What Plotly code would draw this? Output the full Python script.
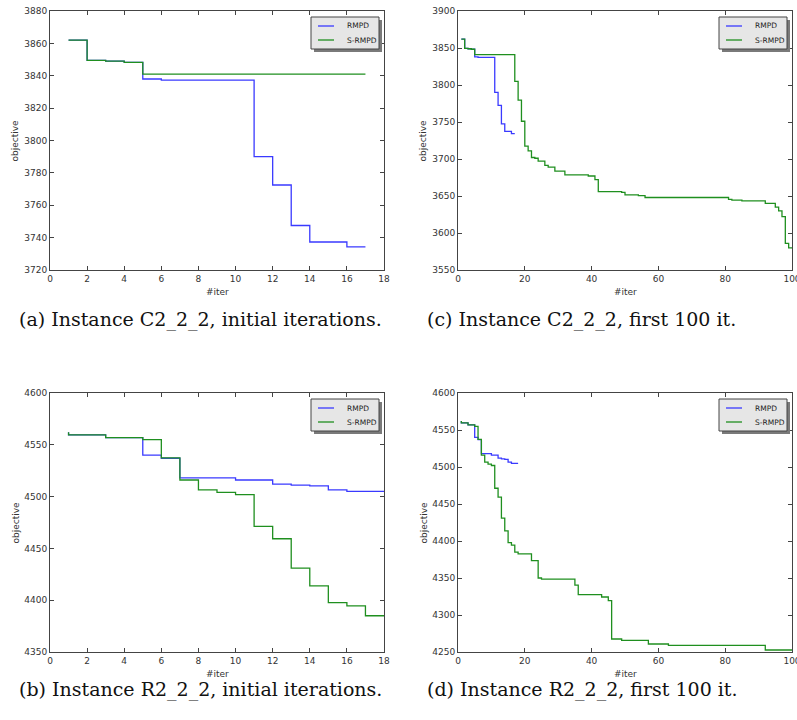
import plotly.graph_objects as go

# ---- data: (a) C2_2_2 initial iterations ----
a_rmpd_x = [1, 2, 3, 4, 5, 6, 11, 12, 13, 14, 16, 17]
a_rmpd_y = [3862, 3849.5, 3849, 3848.3, 3838, 3837.3, 3790, 3772.5, 3747.5, 3737.3, 3734.3, 3734.3]
a_srmpd_x = [1, 2, 3, 4, 5, 17]
a_srmpd_y = [3862, 3849.5, 3849, 3848.3, 3841, 3841]

# ---- data: (c) C2_2_2 first 100 iterations ----
c_rmpd_x = [1, 2, 3, 4, 5, 6, 11, 12, 13, 14, 16, 17]
c_rmpd_y = [3862, 3849.5, 3849, 3848.3, 3838, 3837.3, 3790, 3772.5, 3747.5, 3737.3, 3734.3, 3734.3]
c_srmpd_x = [1, 2, 3, 4, 5, 17, 18, 19, 20, 21, 22, 23, 24, 26, 27, 29, 32, 39, 41, 42,
             49, 50, 54, 56, 81, 82, 85, 92, 95, 96, 97, 98, 99, 100]
c_srmpd_y = [3862, 3849.5, 3849, 3848.3, 3841, 3805, 3779.5, 3751, 3717.5, 3711, 3702, 3701,
             3697, 3691.5, 3689, 3683.5, 3678.5, 3677, 3672, 3656, 3655, 3651.5, 3650.5, 3648,
             3645.5, 3644.5, 3643.5, 3640, 3635, 3630, 3622, 3586, 3580, 3580]

# ---- data: (b) R2_2_2 initial iterations ----
b_rmpd_x = [1, 1, 3, 5, 6, 7, 10, 12, 13, 14, 15, 16, 18]
b_rmpd_y = [4562, 4559.5, 4557, 4540, 4537, 4518, 4516, 4512, 4511, 4510.3, 4506.5, 4505, 4505]
b_srmpd_x = [1, 1, 3, 5, 6, 7, 8, 9, 10, 11, 12, 13, 14, 15, 16, 17, 18]
b_srmpd_y = [4562, 4559.5, 4557, 4555, 4537.3, 4516, 4506.5, 4504, 4502, 4471.3, 4459.3,
             4431, 4413.8, 4397.7, 4394.5, 4385, 4385]

# ---- data: (d) R2_2_2 first 100 iterations ----
d_rmpd_x = [1, 1, 3, 5, 6, 7, 10, 12, 13, 14, 15, 16, 18]
d_rmpd_y = [4562, 4559.5, 4557, 4540, 4537, 4518, 4516, 4512, 4511, 4510.3, 4506.5, 4505, 4505]
d_srmpd_x = [1, 1, 3, 5, 6, 7, 8, 9, 10, 11, 12, 13, 14, 15, 16, 17, 18, 22, 24, 25, 35, 36,
             43, 45, 46, 49, 57, 63, 92, 100]
d_srmpd_y = [4562, 4559.5, 4557, 4555, 4537.3, 4516, 4506.5, 4504, 4502, 4471.3, 4459.3,
             4431, 4413.8, 4397.7, 4394.5, 4385, 4382.7, 4373.5, 4350, 4348.6, 4340.5, 4327.5,
             4324.3, 4319.4, 4267.6, 4265.8, 4260.8, 4259, 4252.7, 4252.7]

series_names = ["RMPD", "S-RMPD"]
captions = ["(a) Instance C2_2_2, initial iterations.",
            "(c) Instance C2_2_2, first 100 it.",
            "(b) Instance R2_2_2, initial iterations.",
            "(d) Instance R2_2_2, first 100 it."]
x_ticks_small = [0, 2, 4, 6, 8, 10, 12, 14, 16, 18]
x_ticks_big = [0, 20, 40, 60, 80, 100]
y_ticks_a = [3720, 3740, 3760, 3780, 3800, 3820, 3840, 3860, 3880]
y_ticks_c = [3550, 3600, 3650, 3700, 3750, 3800, 3850, 3900]
y_ticks_b = [4350, 4400, 4450, 4500, 4550, 4600]
y_ticks_d = [4250, 4300, 4350, 4400, 4450, 4500, 4550, 4600]

BLUE = "#3a3aff"
GREEN = "#1f8f1f"
COLORS = [BLUE, GREEN]
W, H = 797, 720

# panel pixel boxes: (left, right, top, bottom)
panels = [
    dict(box=(50, 384, 11, 270), data=(a_rmpd_x, a_rmpd_y, a_srmpd_x, a_srmpd_y),
         xr=[0, 18], yr=[3720, 3880], xt=x_ticks_small, yt=y_ticks_a, cap=captions[0], capy=319),
    dict(box=(458, 792, 11, 270), data=(c_rmpd_x, c_rmpd_y, c_srmpd_x, c_srmpd_y),
         xr=[0, 100], yr=[3550, 3900], xt=x_ticks_big, yt=y_ticks_c, cap=captions[1], capy=319),
    dict(box=(50, 384, 393, 652), data=(b_rmpd_x, b_rmpd_y, b_srmpd_x, b_srmpd_y),
         xr=[0, 18], yr=[4350, 4600], xt=x_ticks_small, yt=y_ticks_b, cap=captions[2], capy=689),
    dict(box=(458, 792, 393, 652), data=(d_rmpd_x, d_rmpd_y, d_srmpd_x, d_srmpd_y),
         xr=[0, 100], yr=[4250, 4600], xt=x_ticks_big, yt=y_ticks_d, cap=captions[3], capy=689),
]


def px(x):
    return x / W


def py(y):
    return 1 - y / H


fig = go.Figure()
layout = dict(width=W, height=H, margin=dict(l=0, r=0, t=0, b=0),
              paper_bgcolor="white", plot_bgcolor="white", showlegend=False)
annotations = []
shapes = []

for i, p in enumerate(panels):
    n = "" if i == 0 else str(i + 1)
    L, R, T, B = p["box"]
    rx, ry, sx, sy = p["data"]
    fig.add_trace(go.Scatter(x=rx, y=ry, mode="lines", line=dict(color=BLUE, width=1.3, shape="hv"),
                             name=series_names[0], xaxis="x" + n, yaxis="y" + n))
    fig.add_trace(go.Scatter(x=sx, y=sy, mode="lines", line=dict(color=GREEN, width=1.3, shape="hv"),
                             name=series_names[1], xaxis="x" + n, yaxis="y" + n))
    common = dict(showline=True, linecolor="#444", linewidth=1, mirror="ticks", ticks="inside",
                  ticklen=4, tickcolor="#444", showgrid=False, zeroline=False,
                  tickfont=dict(family="DejaVu Sans", size=9, color="#333"), automargin=False,
                  ticklabeloverflow="allow")
    layout["xaxis" + n] = dict(domain=[px(L), px(R)], range=p["xr"], tickvals=p["xt"],
                               anchor="y" + n, **common)
    layout["yaxis" + n] = dict(domain=[py(B), py(T)], range=p["yr"], tickvals=p["yt"],
                               anchor="x" + n, **common)

    # legend box (matplotlib-style, with shadow)
    bx1, by0 = R - 5, T + 6
    bx0, by1 = bx1 - 68, by0 + 32
    shapes.append(dict(type="rect", xref="paper", yref="paper",
                       x0=px(bx0 + 3), x1=px(bx1 + 3), y0=py(by1 + 3), y1=py(by0 + 3),
                       fillcolor="#7a7a7a", line=dict(width=0)))
    shapes.append(dict(type="rect", xref="paper", yref="paper",
                       x0=px(bx0), x1=px(bx1), y0=py(by1), y1=py(by0),
                       fillcolor="#e6e6e6", line=dict(color="#444", width=1)))
    for k, name in enumerate(series_names):
        ly = by0 + 9 + 14 * k
        shapes.append(dict(type="line", xref="paper", yref="paper",
                           x0=px(bx0 + 7), x1=px(bx0 + 23), y0=py(ly), y1=py(ly),
                           line=dict(color=COLORS[k], width=1.3)))
        annotations.append(dict(text=name, xref="paper", yref="paper", x=px(bx0 + 34), y=py(ly),
                                showarrow=False, xanchor="left", yanchor="middle",
                                font=dict(family="DejaVu Sans", size=7.5, color="#222")))

    # axis titles
    annotations.append(dict(text="#iter", xref="paper", yref="paper", x=px((L + R) / 2),
                            y=py(B + 21.5), showarrow=False, xanchor="center", yanchor="middle",
                            font=dict(family="DejaVu Sans", size=9, color="#333")))
    annotations.append(dict(text="objective", xref="paper", yref="paper", x=px(L - 35),
                            y=py((T + B) / 2), showarrow=False, textangle=-90,
                            xanchor="center", yanchor="middle",
                            font=dict(family="DejaVu Sans", size=9, color="#333")))
    # caption
    annotations.append(dict(text=p["cap"], xref="paper", yref="paper", x=px(L - 33),
                            y=py(p["capy"]), showarrow=False, xanchor="left", yanchor="middle",
                            font=dict(family="DejaVu Serif", size=19, color="#111")))

layout["annotations"] = annotations
layout["shapes"] = shapes
fig.update_layout(**layout)
fig.write_html("out.html", config={"displayModeBar": False},
               post_script="document.body.style.margin='0';document.body.style.overflow='hidden';")
